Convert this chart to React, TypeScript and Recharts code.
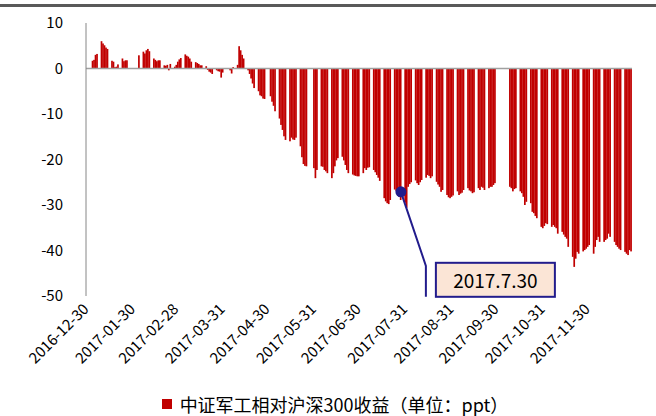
import React from "react";
import {
  BarChart,
  Bar,
  XAxis,
  YAxis,
  ReferenceLine,
  ReferenceDot,
  Legend,
} from "recharts";

document.body.style.margin = "0";

const FONT = '"Noto Sans CJK SC", "Noto Sans", sans-serif';
const SERIES_NAME = "中证军工相对沪深300收益（单位：ppt）";

// relative return, one value per trading day, month by month
const DEC_2016 = [0];
const JAN = [1.7, 1.9, 3.0, 3.2, 6.0, 5.5, 5.1, 4.6, 4.3, 1.7, 1.5, 0.3, 0.4, 0.9, 2.2, 1.6, 1.8, 1.8];
const FEB = [2.9, 3.7, 3.3, 4.0, 4.3, 3.8, 2.2, 1.9, 1.6, 1.8, 1.8, 0.7, 0.6, 0.8, -0.4, 1.0, 0.4, 0.8];
const MAR = [1.5, 2.0, 2.3, 3.1, 2.8, 2.6, 2.2, 1.5, 1.4, 1.2, 1.0, 0.7, 0.7, 0.5, -0.3, -0.7, -0.9, -1.2, -0.4, -0.6, -0.7, -2.0, -0.9];
const APR = [-0.4, -1.1, 0.3, 0.8, 4.9, 4.0, 3.0, 2.2, -0.4, -1.2, -2.2, -3.3, -4.3, -5.0, -5.9, -6.1, -6.6, -6.7];
const MAY = [-6.1, -7.3, -8.2, -9.4, -11.0, -12.4, -13.5, -14.9, -15.7, -16.0, -15.2, -15.6, -15.7, -15.2, -17.1, -19.5, -21.0, -21.4, -21.5, -21.9];
const JUN = [-24.1, -22.3, -21.5, -21.6, -22.3, -22.6, -23.0, -24.1, -23.0, -21.5, -20.2, -19.7, -19.4, -20.2, -21.2, -22.3, -23.0, -23.3, -23.5, -23.6, -23.7, -23.7];
const JUL = [-23.0, -21.9, -22.3, -21.8, -21.7, -22.3, -22.8, -23.4, -24.0, -24.7, -28.5, -29.2, -29.6, -29.8, -28.9, -26.6, -26.9, -27.4, -28.2, -28.9, -29.5];
const AUG = [-30.6, -26.0, -25.4, -25.0, -24.6, -25.2, -25.6, -25.0, -24.5, -24.0, -23.4, -23.6, -24.1, -23.7, -24.9, -25.5, -26.0, -27.1, -26.7, -27.8, -28.3, -28.5, -28.2];
const SEP = [-27.9, -27.0, -27.8, -27.5, -27.3, -26.7, -26.3, -26.8, -27.0, -27.4, -27.2, -26.3, -26.7, -26.0, -26.2, -26.7, -26.3, -26.0, -26.0, -25.6, -25.2];
const OCT = [-26.0, -26.3, -27.0, -26.5, -26.3, -27.0, -27.4, -28.2, -30.0, -29.3, -29.6, -31.5, -31.8, -32.4, -32.9, -34.8, -35.1];
const NOV = [-34.6, -34.0, -34.2, -34.8, -34.4, -34.8, -35.1, -36.3, -35.9, -36.5, -37.0, -37.4, -39.2, -41.4, -43.6, -41.8, -40.3, -40.7, -40.2, -39.9, -39.6, -39.2];
const DEC = [-38.8, -40.7, -39.2, -37.7, -37.0, -38.1, -38.1, -37.7, -37.4, -36.3, -37.0, -38.1, -38.8, -39.2, -39.6, -39.9, -40.3, -40.7, -41.0, -39.9, -40.2];

// exchange holidays (weekdays without trading)
const HOLIDAYS = [
  "2017-01-02", "2017-01-27", "2017-01-30", "2017-01-31", "2017-02-01", "2017-02-02",
  "2017-04-03", "2017-04-04", "2017-05-01", "2017-05-29", "2017-05-30",
  "2017-10-02", "2017-10-03", "2017-10-04", "2017-10-05", "2017-10-06",
];

const TICK_DATES = [
  "2016-12-30", "2017-01-30", "2017-02-28", "2017-03-31", "2017-04-30", "2017-05-31",
  "2017-06-30", "2017-07-31", "2017-08-31", "2017-09-30", "2017-10-31", "2017-11-30",
];
const Y_TICKS = [-50, -40, -30, -20, -10, 0, 10];

const NOTE_DATE = "2017-07-28";
const NOTE_VALUE = -27.1;
const NOTE_LABEL = "2017.7.30";

// date axis: every calendar day gets a slot, non-trading days stay empty
function buildData() {
  const values = [...DEC_2016, ...JAN, ...FEB, ...MAR, ...APR, ...MAY, ...JUN, ...JUL, ...AUG, ...SEP, ...OCT, ...NOV, ...DEC];
  const start = Date.UTC(2016, 11, 30);
  const rows: { date: string; value: number | null }[] = [];
  let k = 0;
  for (let i = 0; i < 365; i++) {
    const d = new Date(start + i * 86400000);
    const date = d.toISOString().slice(0, 10);
    const wd = d.getUTCDay();
    const trading = wd !== 0 && wd !== 6 && !HOLIDAYS.includes(date);
    rows.push({ date, value: trading && k < values.length ? values[k++] : null });
  }
  return rows;
}

const data = buildData();

// bars on a daily axis are thinner than a pixel apart; widen a bit so a week reads as one block
function DayBar({ x, y, width, height, fill }: any) {
  if (x == null || y == null || !height) return null;
  const top = Math.min(y, y + height);
  const h = Math.abs(height);
  return <rect x={x - 0.3} y={top} width={width + 0.7} height={h} fill={fill} />;
}

function DateTick({ x, y, payload }: any) {
  return (
    <text
      transform={`translate(${x + 3},${y + 12}) rotate(-45)`}
      textAnchor="end"
      fontSize={15}
      fontFamily={FONT}
      fill="#000"
    >
      {payload.value}
    </text>
  );
}

function Callout({ cx, cy }: any) {
  if (cx == null || cy == null) return null;
  const c = "#221C8C";
  return (
    <g>
      <polyline
        points={`${cx},${cy} ${cx + 25},${cy + 74} ${cx + 25},${cy + 105}`}
        fill="none"
        stroke={c}
        strokeWidth={2}
      />
      <circle cx={cx} cy={cy} r={5.5} fill={c} />
      <rect x={cx + 35} y={cy + 71} width={119} height={34} fill="#FBE5D6" stroke={c} strokeWidth={2} />
      <text
        x={cx + 94.5}
        y={cy + 88}
        textAnchor="middle"
        dominantBaseline="central"
        fontSize={19}
        fontFamily={FONT}
        fill="#000"
      >
        {NOTE_LABEL}
      </text>
    </g>
  );
}

function LegendContent() {
  return (
    <div
      style={{
        display: "flex",
        justifyContent: "center",
        alignItems: "center",
        height: 36,
        paddingTop: 12,
        paddingLeft: 38,
        boxSizing: "border-box",
        fontFamily: FONT,
        fontSize: 18,
        color: "#000",
        lineHeight: "22px",
      }}
    >
      <span style={{ width: 10, height: 10, background: "#C00000", marginRight: 8, display: "inline-block" }} />
      <span>{SERIES_NAME}</span>
    </div>
  );
}

export default function App() {
  return (
    <div style={{ position: "relative", width: 656, height: 416, background: "#fff", overflow: "hidden" }}>
      <div style={{ position: "absolute", top: 4, left: 0, width: 656, height: 3, background: "#595959" }} />
      <BarChart
        width={656}
        height={416}
        data={data}
        margin={{ top: 23, right: 24, left: 0, bottom: 0 }}
        barCategoryGap={0}
        barGap={0}
      >
        <XAxis
          dataKey="date"
          type="category"
          ticks={TICK_DATES}
          interval={0}
          axisLine={false}
          tickLine={false}
          tickSize={0}
          height={84}
          tick={<DateTick />}
        />
        <YAxis
          domain={[-50, 10]}
          ticks={Y_TICKS}
          interval={0}
          width={86}
          axisLine={{ stroke: "#868686", strokeWidth: 1 }}
          tickLine={false}
          tickSize={0}
          tickMargin={23}
          tick={{ fill: "#000", fontSize: 15, fontFamily: FONT }}
        />
        <Bar
          dataKey="value"
          name={SERIES_NAME}
          fill="#C00000"
          shape={<DayBar />}
          isAnimationActive={false}
        />
        <ReferenceLine y={0} stroke="#A0A0A0" strokeWidth={1.5} />
        <ReferenceDot x={NOTE_DATE} y={NOTE_VALUE} r={5} shape={<Callout />} />
        <Legend verticalAlign="bottom" height={36} content={<LegendContent />} />
      </BarChart>
    </div>
  );
}
